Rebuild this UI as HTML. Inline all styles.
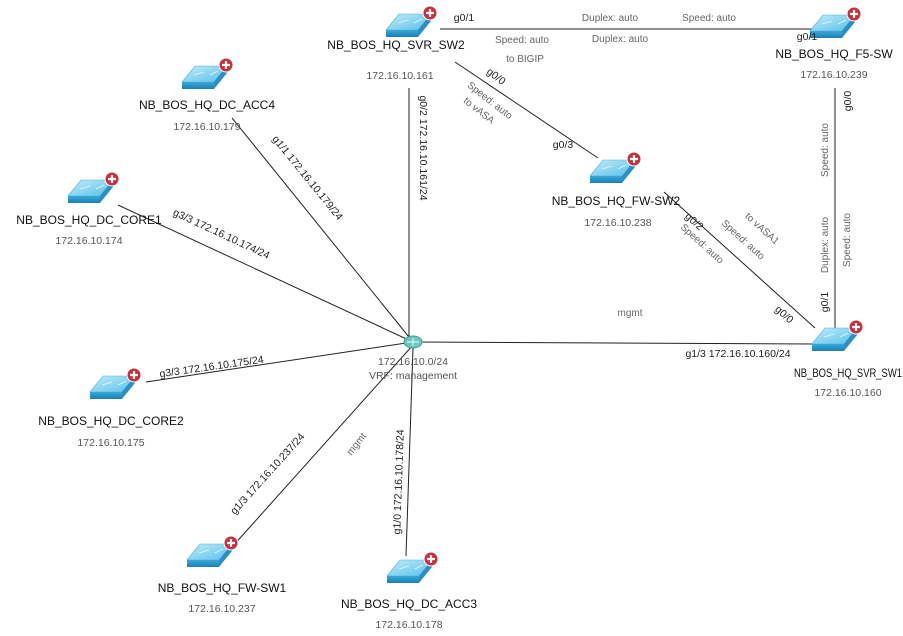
<!DOCTYPE html>
<html><head><meta charset="utf-8"><style>
html,body{margin:0;padding:0;background:#fff;}
svg{display:block;font-family:"Liberation Sans",sans-serif;}
.n{font-size:12px;fill:#111;text-anchor:middle;}
.ip{font-size:10.5px;fill:#555;text-anchor:middle;}
.l{font-size:10.5px;fill:#222;text-anchor:middle;}
.g{font-size:10px;fill:#666;text-anchor:middle;}
line{stroke:#222;stroke-width:1;}
</style></head><body>
<svg width="903" height="636" viewBox="0 0 903 636">
<defs>
<linearGradient id="top" x1="0" y1="0" x2="1" y2="1"><stop offset="0" stop-color="#c4ecf9"/><stop offset="1" stop-color="#56c0ea"/></linearGradient>
<linearGradient id="side" x1="0" y1="0" x2="0" y2="1"><stop offset="0" stop-color="#3aa9d8"/><stop offset="1" stop-color="#1b7fb5"/></linearGradient>
<g id="sw">
<path d="M-22,5 L-9,-11 L23,-11 L10,5 Z" fill="url(#top)" stroke="#4ab0de" stroke-width="0.6"/>
<path d="M-22,5 L10,5 L10,12 L-22,12 Z" fill="url(#side)"/>
<path d="M10,5 L23,-11 L23,-4 L10,12 Z" fill="#2a8fc4"/>
<path d="M-10,-2 L0,-5 M6,-2 L14,-6" stroke="#eaf8ff" stroke-width="0.8"/>
<circle cx="22" cy="-12" r="7" fill="#c9303c" stroke="#fff" stroke-width="1"/>
<path d="M18,-12 H26 M22,-16 V-8" stroke="#fff" stroke-width="2.2"/>
</g>
</defs>

<line x1="413" y1="342" x2="232" y2="118"/>
<line x1="413" y1="342" x2="118" y2="205"/>
<line x1="409" y1="88" x2="409" y2="336"/>
<line x1="413" y1="342" x2="146" y2="382"/>
<line x1="413" y1="345" x2="232" y2="547"/>
<line x1="413" y1="348" x2="406" y2="556"/>
<line x1="420" y1="342" x2="814" y2="344"/>
<line x1="440" y1="29" x2="818" y2="29"/>
<line x1="455" y1="62" x2="598" y2="158"/>
<line x1="664" y1="192" x2="815" y2="328"/>
<line x1="835" y1="88" x2="835" y2="328"/>

<ellipse cx="413" cy="342" rx="9" ry="6" fill="#6cc7c0" stroke="#3c9a94"/>
<path d="M407,342 H419 M413,338 V346" stroke="#e8fffc" stroke-width="1"/>
<text class="ip" x="413" y="365">172.16.10.0/24</text>
<text class="ip" x="413" y="379">VRF: management</text>

<use href="#sw" x="408" y="25"/>
<text class="n" x="396" y="49">NB_BOS_HQ_SVR_SW2</text><text class="ip" x="400" y="79">172.16.10.161</text>
<use href="#sw" x="832" y="26"/>
<text class="n" x="834" y="58">NB_BOS_HQ_F5-SW</text><text class="ip" x="834" y="78">172.16.10.239</text>
<use href="#sw" x="204" y="77"/>
<text class="n" x="207" y="109">NB_BOS_HQ_DC_ACC4</text><text class="ip" x="207" y="130">172.16.10.179</text>
<use href="#sw" x="90" y="191"/>
<text class="n" x="89" y="224">NB_BOS_HQ_DC_CORE1</text><text class="ip" x="89" y="244">172.16.10.174</text>
<use href="#sw" x="612" y="171"/>
<text class="n" x="616" y="205">NB_BOS_HQ_FW-SW2</text><text class="ip" x="618" y="226">172.16.10.238</text>
<use href="#sw" x="834" y="339"/>
<text class="n" x="848" y="377" textLength="108" lengthAdjust="spacingAndGlyphs">NB_BOS_HQ_SVR_SW1</text><text class="ip" x="848" y="396">172.16.10.160</text>
<use href="#sw" x="112" y="387"/>
<text class="n" x="111" y="425">NB_BOS_HQ_DC_CORE2</text><text class="ip" x="111" y="446">172.16.10.175</text>
<use href="#sw" x="209" y="555"/>
<text class="n" x="222" y="592">NB_BOS_HQ_FW-SW1</text><text class="ip" x="222" y="612">172.16.10.237</text>
<use href="#sw" x="409" y="571"/>
<text class="n" x="409" y="608">NB_BOS_HQ_DC_ACC3</text><text class="ip" x="409" y="628">172.16.10.178</text>

<text class="l" x="464" y="21">g0/1</text>
<text class="g" x="610" y="21">Duplex: auto</text>
<text class="g" x="709" y="21">Speed: auto</text>
<text class="g" x="522" y="43">Speed: auto</text>
<text class="g" x="620" y="42">Duplex: auto</text>
<text class="l" x="807" y="40">g0/1</text>
<text class="g" x="525" y="62">to BIGIP</text>
<text class="l" transform="translate(494,79) rotate(38)">g0/0</text>
<text class="g" transform="translate(488,103) rotate(38)">Speed: auto</text>
<text class="g" transform="translate(477,113) rotate(38)">to vASA</text>
<text class="l" x="563" y="148">g0/3</text>
<text class="l" transform="translate(692,224) rotate(42)">g0/2</text>
<text class="g" transform="translate(700,246) rotate(42)">Speed: auto</text>
<text class="g" transform="translate(741,242) rotate(42)">Speed: auto</text>
<text class="g" transform="translate(760,231) rotate(42)">to vASA1</text>
<text class="l" transform="translate(782,317) rotate(42)">g0/0</text>
<text class="l" transform="translate(851,101) rotate(-90)">g0/0</text>
<text class="g" transform="translate(828,150) rotate(-90)">Speed: auto</text>
<text class="g" transform="translate(828,245) rotate(-90)">Duplex: auto</text>
<text class="g" transform="translate(850,240) rotate(-90)">Speed: auto</text>
<text class="l" transform="translate(828,302) rotate(-90)">g0/1</text>
<text class="g" x="630" y="316">mgmt</text>
<text class="l" x="738" y="357">g1/3 172.16.10.160/24</text>
<text class="l" transform="translate(305,180) rotate(51)">g1/1 172.16.10.179/24</text>
<text class="l" transform="translate(220,237) rotate(25)">g3/3 172.16.10.174/24</text>
<text class="l" transform="translate(420,148) rotate(90)">g0/2 172.16.10.161/24</text>
<text class="l" transform="translate(212,370) rotate(-8)">g3/3 172.16.10.175/24</text>
<text class="l" transform="translate(270,476) rotate(-48)">g1/3 172.16.10.237/24</text>
<text class="l" transform="translate(402,482) rotate(-88)">g1/0 172.16.10.178/24</text>
<text class="g" transform="translate(359,446) rotate(-52)">mgmt</text>
</svg>
</body></html>
